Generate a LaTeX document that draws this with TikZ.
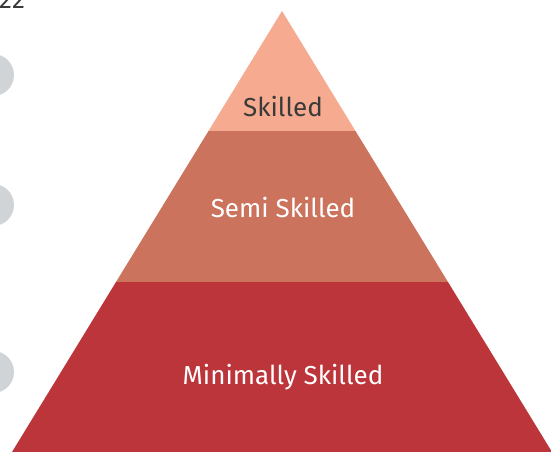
\documentclass[tikz,border=0pt]{standalone}
\usepackage{fontspec}
\setmainfont{Fira Sans}
\definecolor{tiertop}{HTML}{F6AB90}
\definecolor{tiermid}{HTML}{CB735D}
\definecolor{tierlow}{HTML}{BB353A}
\definecolor{dotgrey}{HTML}{D1D4D7}
\definecolor{inkgrey}{HTML}{3A3A3A}
\begin{document}
\begin{tikzpicture}[x=1pt,y=-1pt]
            \tikzset{
	tierlabel/.style={font=\fontsize{26}{30}\selectfont,text=white,inner sep=0pt},
	sidedot/.style={fill=dotgrey}
}
\useasboundingbox (0,0) rectangle (551,452);

% apex, band corners
\coordinate (apex) at (282,11);
\coordinate (al) at (208.5,131);
\coordinate (ar) at (355.5,131);
\coordinate (bl) at (116,282);
\coordinate (br) at (448,282);
\coordinate (cl) at (12,452);
\coordinate (cr) at (552,452);

\fill[tiertop] (apex) -- (ar) -- (al) -- cycle;
\fill[tiermid] (al) -- (ar) -- (br) -- (bl) -- cycle;
\fill[tierlow] (bl) -- (br) -- (cr) -- (cl) -- cycle;

\node[tierlabel,text=inkgrey] (skilled) at (283,107) {Skilled};
\node[tierlabel] (semi) at (283,208) {Semi Skilled};
\node[tierlabel] (minimal) at (283,377) {Minimally Skilled};

% grey markers on the left
\foreach \y in {75,205,372}
	\fill[sidedot] (-7,\y) circle (21);

\node[anchor=south west,inner sep=0pt,text=inkgrey,font=\fontsize{26}{28}\selectfont] (pagenum) at (-1,9) {22};
        \end{tikzpicture}
\end{document}
